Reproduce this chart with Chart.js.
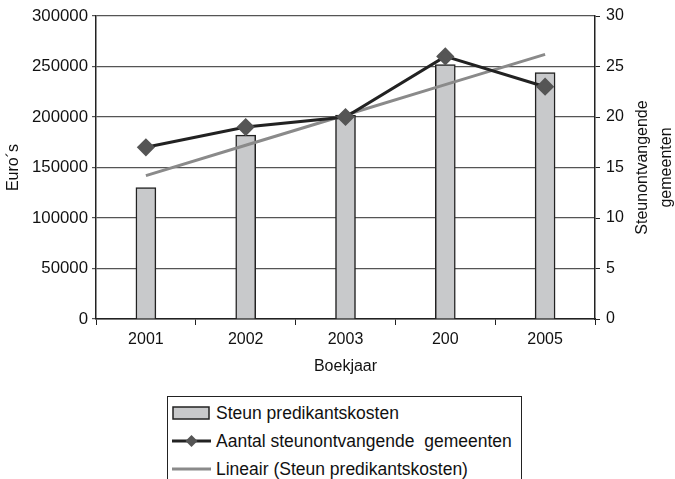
<!DOCTYPE html>
<html>
<head>
<meta charset="utf-8">
<script src="https://cdn.jsdelivr.net/npm/chart.js@4.4.1/dist/chart.umd.min.js"></script>
<style>
  body { margin: 0; background: #fff; font-family: "Liberation Sans", Arial, sans-serif; }
  #wrap { position: relative; width: 675px; height: 479px; }
  #chart { position: absolute; left: 0; top: 0; }
  #legend {
    position: absolute; left: 167px; top: 396px; width: 355px; height: 83px;
    border: 1px solid #222; border-bottom: none; box-sizing: border-box;
    font-size: 17.5px; color: #111;
  }
  .item { position: absolute; left: 4px; height: 20px; display: flex; align-items: center; white-space: pre; }
  .item svg { margin-right: 5px; }
</style>
</head>
<body>
<div id="wrap">
  <canvas id="chart" width="675" height="385"></canvas>
  <div id="legend"></div>
</div>
<script>
// jaren zoals ze in de figuur staan (inclusief de "200" typo)
const years = ['2001', '2002', '2003', '200', '2005'];
const steunKosten = [130000, 182000, 202000, 252000, 244000];
const aantalGemeenten = [17, 19, 20, 26, 23];
const trendKosten = [142000, 172000, 202000, 232000, 262000];

const leftTicks = [0, 50000, 100000, 150000, 200000, 250000, 300000];
const rightTicks = [0, 5, 10, 15, 20, 25, 30];

const FONT = { family: '"Liberation Sans", Arial, sans-serif', size: 16 };

// right axis title reads bottom-to-top, like the left one
const axisTitles = {
  id: 'axisTitles',
  afterDraw(chart) {
    const { ctx, chartArea } = chart;
    const cy = (chartArea.top + chartArea.bottom) / 2;
    ctx.save();
    ctx.fillStyle = '#111';
    ctx.font = '16px "Liberation Sans", Arial, sans-serif';
    ctx.textAlign = 'center';
    ctx.textBaseline = 'middle';
    const draw = (text, x) => {
      ctx.save();
      ctx.translate(x, cy);
      ctx.rotate(-Math.PI / 2);
      ctx.fillText(text, 0, 0);
      ctx.restore();
    };
    draw('Euro´s', 14);
    draw('Steunontvangende', 643);
    draw('gemeenten', 667);
    ctx.restore();
  }
};

new Chart(document.getElementById('chart'), {
  data: {
    labels: years,
    datasets: [
      {
        type: 'line',
        label: 'Aantal steunontvangende  gemeenten',
        data: aantalGemeenten,
        yAxisID: 'y1',
        borderColor: '#222',
        borderWidth: 3,
        pointStyle: 'rectRot',
        pointRadius: 7,
        pointBackgroundColor: '#555',
        pointBorderColor: '#555',
        order: 1
      },
      {
        type: 'line',
        label: 'Lineair (Steun predikantskosten)',
        data: trendKosten,
        yAxisID: 'y',
        borderColor: '#8a8a8a',
        borderWidth: 3,
        pointRadius: 0,
        order: 2
      },
      {
        type: 'bar',
        label: 'Steun predikantskosten',
        data: steunKosten,
        yAxisID: 'y',
        backgroundColor: '#c8c9cb',
        borderColor: '#222',
        borderWidth: 1.5,
        barThickness: 20,
        order: 3
      }
    ]
  },
  options: {
    responsive: false,
    animation: false,
    layout: { padding: { top: 16, left: 0, right: 0, bottom: 0 } },
    plugins: { legend: { display: false }, tooltip: { enabled: false } },
    scales: {
      x: {
        offset: true,
        afterFit: s => { s.height = 66; },
        grid: { offset: true, drawOnChartArea: false, drawTicks: true, tickLength: 6, color: '#222' },
        border: { color: '#222', width: 1.5 },
        ticks: { color: '#111', font: FONT, padding: 5 },
        title: { display: true, text: 'Boekjaar', color: '#111', font: FONT, padding: { top: 4, bottom: 9 } }
      },
      y: {
        position: 'left',
        min: 0, max: 300000,
        afterBuildTicks: s => { s.ticks = leftTicks.map(v => ({ value: v })); },
        afterFit: s => { s.width = 96; },
        grid: { color: '#555', tickLength: 4, lineWidth: 1.2 },
        border: { color: '#222', width: 1.5 },
        ticks: { color: '#111', font: { ...FONT, size: 16.8 }, padding: 4, callback: v => String(v) }
      },
      y1: {
        position: 'right',
        min: 0, max: 30,
        afterBuildTicks: s => { s.ticks = rightTicks.map(v => ({ value: v })); },
        afterFit: s => { s.width = 80; },
        grid: { drawOnChartArea: false, color: '#222', tickLength: 5 },
        border: { color: '#222', width: 1.5 },
        ticks: { color: '#111', font: FONT, padding: 6 }
      }
    }
  },
  plugins: [axisTitles]
});

// legenda als html
const legendItems = [
  { text: 'Steun predikantskosten', kind: 'bar' },
  { text: 'Aantal steunontvangende  gemeenten', kind: 'marker' },
  { text: 'Lineair (Steun predikantskosten)', kind: 'trend' }
];
const legend = document.getElementById('legend');
legendItems.forEach((it, i) => {
  let sym = '';
  if (it.kind === 'bar') sym = '<rect x="1" y="4" width="36" height="12" fill="#c8c9cb" stroke="#222" stroke-width="1.5"/>';
  if (it.kind === 'marker') sym = '<line x1="0" y1="10" x2="39" y2="10" stroke="#222" stroke-width="3"/><polygon points="19.5,4 25.5,10 19.5,16 13.5,10" fill="#555"/>';
  if (it.kind === 'trend') sym = '<line x1="0" y1="10" x2="39" y2="10" stroke="#8a8a8a" stroke-width="3"/>';
  const d = document.createElement('div');
  d.className = 'item';
  d.style.top = (6 + i * 28) + 'px';
  d.innerHTML = '<svg width="39" height="20">' + sym + '</svg><span>' + it.text + '</span>';
  legend.appendChild(d);
});
</script>
</body>
</html>
